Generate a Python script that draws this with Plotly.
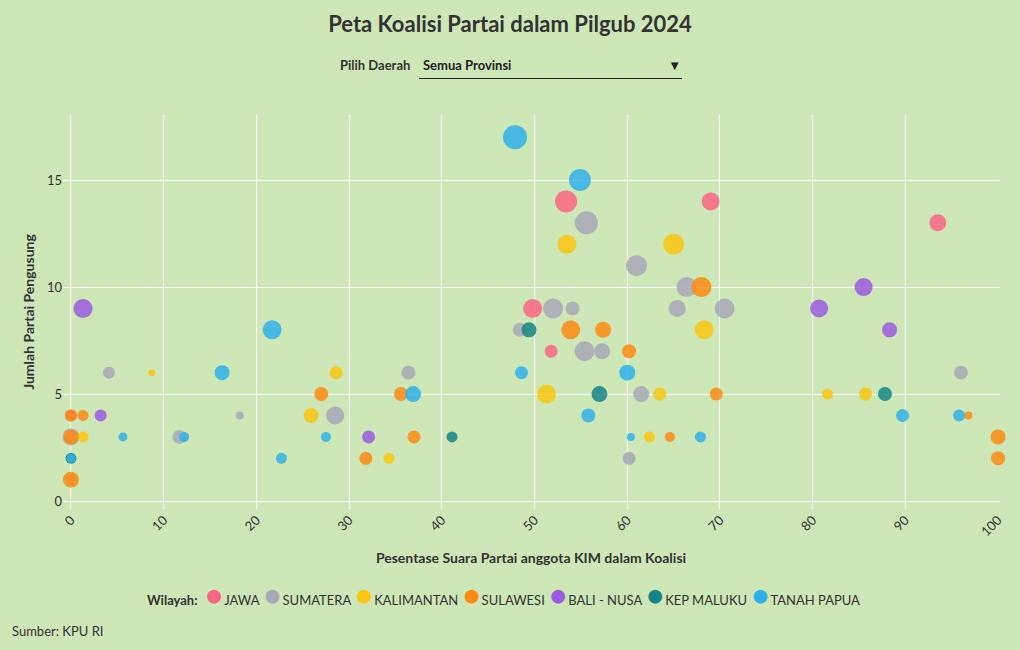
import plotly.graph_objects as go

# ---------------- data ----------------
wilayah = ["JAWA", "SUMATERA", "KALIMANTAN", "SULAWESI", "BALI - NUSA", "KEP MALUKU", "TANAH PAPUA"]

jawa_x = [0.0, 53.4, 69.0, 93.5, 49.8, 51.8]
jawa_y = [4, 14, 14, 13, 9, 7]
jawa_bobot = [12, 22, 18, 17, 19, 13]

sumatera_x = [55.6, 61.0, 66.4, 52.0, 54.1, 65.4, 70.5, 48.4, 55.4, 57.3, 61.5, 60.2,
              4.1, 18.2, 11.7, 0.0, 0.0, 36.4, 28.5, 96.0]
sumatera_y = [13, 11, 10, 9, 9, 9, 9, 8, 7, 7, 5, 2,
              6, 4, 3, 3, 1, 6, 4, 6]
sumatera_bobot = [23, 21, 20, 20, 14, 17, 20, 14, 20, 16, 16, 13,
                  12, 8, 14, 17, 9, 14, 18, 14]

kalimantan_x = [53.5, 65.0, 68.3, 51.3, 63.5, 62.4, 8.7, 1.3, 28.6, 25.9, 34.3, 81.6, 85.7]
kalimantan_y = [12, 12, 8, 5, 5, 3, 6, 3, 6, 4, 2, 5, 5]
kalimantan_bobot = [19, 21, 19, 19, 13, 11, 7, 11, 13, 15, 11, 11, 13]

sulawesi_x = [68.0, 53.9, 57.4, 60.2, 69.6, 64.6, 0.0, 1.3, 0.0, 0.0, 27.0, 35.6, 37.0,
              31.8, 96.8, 100.0, 100.0]
sulawesi_y = [10, 8, 8, 7, 5, 3, 4, 4, 3, 1, 5, 5, 3, 2, 4, 3, 2]
sulawesi_bobot = [20, 19, 16, 14, 13, 10, 12, 11, 15, 16, 14, 14, 13, 13, 8, 15, 14]

bali_x = [1.3, 3.2, 32.1, 85.5, 80.7, 88.3]
bali_y = [9, 4, 3, 10, 9, 8]
bali_bobot = [19, 12, 13, 18, 18, 15]

maluku_x = [49.4, 57.0, 41.1, 87.8, 0.0]
maluku_y = [8, 5, 3, 5, 2]
maluku_bobot = [15, 16, 11, 14, 11]

papua_x = [47.9, 54.9, 48.6, 60.0, 55.8, 60.4, 67.9, 21.7, 16.3, 5.6, 12.2, 22.7,
           36.9, 27.5, 89.7, 95.8, 0.0]
papua_y = [17, 15, 6, 6, 4, 3, 3, 8, 6, 3, 3, 2, 5, 3, 4, 4, 2]
papua_bobot = [24, 22, 13, 16, 14, 8, 11, 19, 15, 9, 10, 11, 16, 10, 13, 12, 9]

x_ticks = [0, 10, 20, 30, 40, 50, 60, 70, 80, 90, 100]
y_ticks = [0, 5, 10, 15]

warna = ["#fb6584", "#a8a8b8", "#fcc612", "#fd8a12", "#9b5be2", "#158587", "#2fb0ea"]

series = [
    (wilayah[0], jawa_x, jawa_y, jawa_bobot, warna[0]),
    (wilayah[1], sumatera_x, sumatera_y, sumatera_bobot, warna[1]),
    (wilayah[2], kalimantan_x, kalimantan_y, kalimantan_bobot, warna[2]),
    (wilayah[3], sulawesi_x, sulawesi_y, sulawesi_bobot, warna[3]),
    (wilayah[4], bali_x, bali_y, bali_bobot, warna[4]),
    (wilayah[5], maluku_x, maluku_y, maluku_bobot, warna[5]),
    (wilayah[6], papua_x, papua_y, papua_bobot, warna[6]),
]

FONT = "Source Sans Pro, Lato, sans-serif"
BG = "#cde8b6"
TXT = "#333333"

# plot area in pixels
L, R, T, B = 63, 21, 115, 141
PW, PH = 1020 - L - R, 650 - T - B


def px_x(p):
    return (p - L) / PW


def px_y(p):
    return (650 - B - p) / PH


fig = go.Figure()
for name, xs, ys, bs, col in series:
    fig.add_trace(go.Scatter(
        x=xs, y=ys, mode="markers", name=name,
        marker=dict(size=bs, sizemode="diameter", sizeref=1, color=col,
                    opacity=0.85, line=dict(width=0)),
        cliponaxis=False,
        hovertemplate=name + "<br>%{x}%<br>%{y} partai<extra></extra>",
    ))

n = len(series)
buttons = [dict(label="Semua Provinsi" + "\u00a0" * 46, method="update",
                args=[{"visible": [True] * n}])]
for i, (name, *_rest) in enumerate(series):
    buttons.append(dict(label=name, method="update",
                        args=[{"visible": [j == i for j in range(n)]}]))

NB = "\u00a0"
THIN = "\u2009"
legend_parts = ["<b>Wilayah:</b>" + NB]
for name, col in zip(wilayah, warna):
    legend_parts.append(
        f"<span style='color:{col};font-size:28px'>\u25cf</span>{THIN}{name}")
legend_text = (NB + THIN).join(legend_parts)

fig.update_layout(
    width=1020, height=650,
    paper_bgcolor=BG, plot_bgcolor=BG,
    font=dict(family=FONT, color=TXT, size=13),
    margin=dict(l=L, r=R, t=T, b=B),
    title=dict(text="<b>Peta Koalisi Partai dalam Pilgub 2024</b>",
               x=0.5, xanchor="center", y=1 - 24 / 650, yanchor="middle",
               yref="container", font=dict(size=22, color=TXT, family=FONT)),
    xaxis=dict(range=[-0.86, 100.1], tickvals=x_ticks, tickangle=-45,
               showgrid=True, gridcolor="white", gridwidth=1, zeroline=False,
               showline=False, ticks="", tickfont=dict(size=13, color=TXT),
               title=dict(text="<b>Pesentase Suara Partai anggota KIM dalam Koalisi</b>",
                          font=dict(size=14, color=TXT), standoff=14)),
    yaxis=dict(range=[-0.37, 18.04], tickvals=y_ticks,
               showgrid=True, gridcolor="white", gridwidth=1, zeroline=False,
               showline=False, ticks="", tickfont=dict(size=13, color=TXT),
               title=dict(text="<b>Jumlah Partai Pengusung</b>",
                          font=dict(size=14, color=TXT), standoff=9)),
    showlegend=False,
    updatemenus=[dict(
        type="dropdown", buttons=buttons, active=0, direction="down",
        x=px_x(411), xanchor="left", y=px_y(66), yanchor="middle",
        bgcolor="rgba(0,0,0,0)", bordercolor="rgba(0,0,0,0)", borderwidth=0,
        showactive=True,
        font=dict(size=13, color="#222222", family=FONT, weight="bold"),
        pad=dict(l=0, r=0, t=0, b=0),
    )],
    annotations=[
        dict(text="<b>Pilih Daerah</b>", xref="paper", yref="paper",
             x=px_x(412), xanchor="right", y=px_y(65), yanchor="middle",
             showarrow=False, font=dict(size=13, color=TXT)),
        dict(text=legend_text, xref="paper", yref="paper",
             x=px_x(503), xanchor="center", y=px_y(594), yanchor="middle",
             showarrow=False, font=dict(size=13, color=TXT)),
        dict(text="Sumber: KPU RI", xref="paper", yref="paper",
             x=px_x(10), xanchor="left", y=px_y(631), yanchor="middle",
             showarrow=False, font=dict(size=13, color=TXT)),
    ],
    shapes=[dict(type="line", xref="paper", yref="paper",
                 x0=px_x(419), x1=px_x(682), y0=px_y(78.5), y1=px_y(78.5),
                 line=dict(color="#222222", width=1))],
)

fig.write_html("out.html", config={"displayModeBar": False},
               post_script="document.body.style.margin='0';")
